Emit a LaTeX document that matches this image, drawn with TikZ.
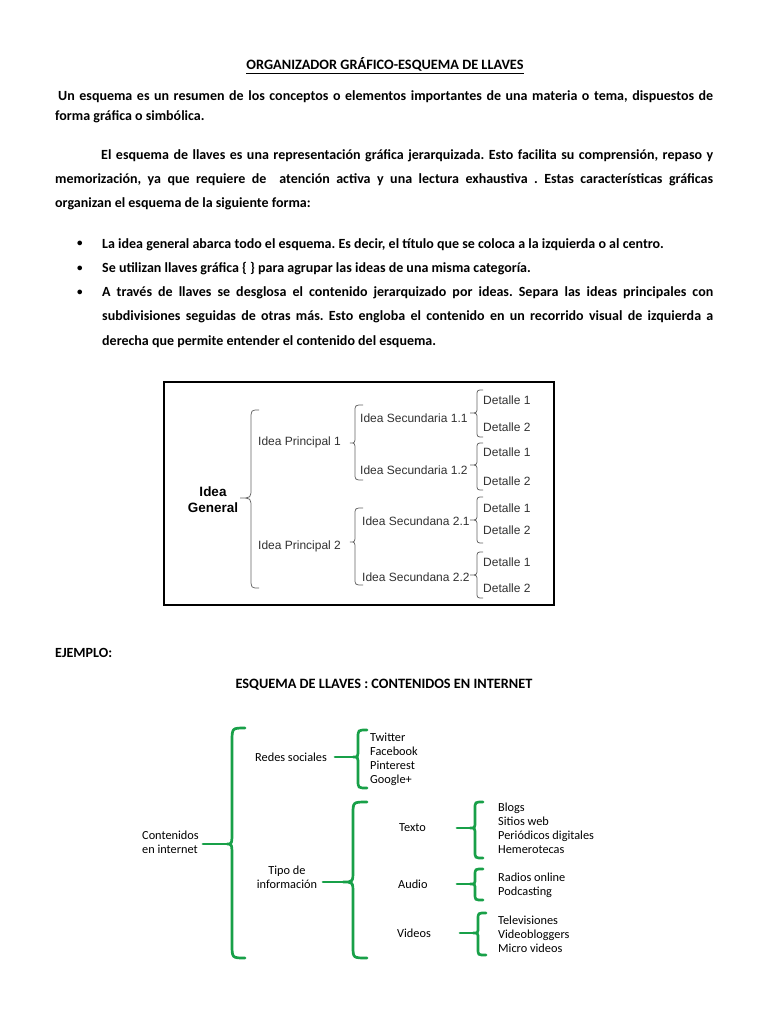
\documentclass[tikz,border=0pt]{standalone}
\usepackage{fontspec}
\setmainfont{Carlito}
\newfontfamily\arialf{Liberation Sans}
\definecolor{llgreen}{RGB}{24,160,72}
\definecolor{grtext}{RGB}{50,50,50}
\definecolor{grline}{RGB}{100,100,100}
\frenchspacing
% #1 tip x, #2 tip y, #3 vertical x, #4 top y, #5 bottom y, #6 curl end x, #7 radius, #8 style
\newcommand{\llave}[8]{%
  \draw[#8] (#6,#4) .. controls (#3,#4) .. (#3,#4+#7) -- (#3,#2-#7)
    .. controls (#3,#2) .. (#1,#2) .. controls (#3,#2) .. (#3,#2+#7)
    -- (#3,#5-#7) .. controls (#3,#5) .. (#6,#5);}
\begin{document}
\begin{tikzpicture}[x=1pt,y=-1pt,
  body/.style={anchor=base west,inner sep=0pt,font=\fontsize{14}{17}\selectfont\bfseries},
  bul/.style={anchor=base west,inner sep=0pt,font=\fontsize{11}{13}\selectfont\bfseries},
  head/.style={anchor=base,inner sep=0pt,font=\fontsize{14.3}{17}\selectfont\bfseries},
  ar/.style={anchor=base west,inner sep=0pt,text=grtext,font=\arialf\fontsize{12}{14}\selectfont},
  arb/.style={inner sep=0pt,align=center,text=black,font=\arialf\bfseries\fontsize{13.5}{16}\selectfont},
  gl/.style={inner sep=0pt,align=left,anchor=west,font=\fontsize{12.3}{14}\selectfont},
  gbr/.style={draw=llgreen,line width=2.7pt,line cap=round},
  thinbr/.style={draw=grline,line width=0.75pt}]
\useasboundingbox[fill=white] (0,0) rectangle (768,1024);

% ---------- heading and text ----------
\node[head] (title) at (385,70) {\underline{ORGANIZADOR GRÁFICO-ESQUEMA DE LLAVES}};
\node[body] (p1a) at (58,101) {\makebox[655pt][s]{Un esquema es un resumen de los conceptos o elementos importantes de una materia o tema, dispuestos de}};
\node[body] (p1b) at (55,121) {forma gráfica o simbólica.};
\node[body] (p2a) at (101,160) {\makebox[612pt][s]{El esquema de llaves es una representación gráfica jerarquizada. Esto facilita su comprensión, repaso y}};
\node[body] (p2b) at (55,184) {\makebox[658pt][s]{memorización, ya que requiere de \ atención activa y una lectura exhaustiva . Estas características gráficas}};
\node[body] (p2c) at (55,208) {organizan el esquema de la siguiente forma:};

\node[bul] (b1) at (77,247) {•};
\node[body] (t1) at (102,248) {La idea general abarca todo el esquema. Es decir, el título que se coloca a la izquierda o al centro.};
\node[bul] (b2) at (77,271) {•};
\node[body] (t2) at (102,272) {Se utilizan llaves gráfica \{ \} para agrupar las ideas de una misma categoría.};
\node[bul] (b3) at (77,295) {•};
\node[body] (t3a) at (102,296) {\makebox[611pt][s]{A través de llaves se desglosa el contenido jerarquizado por ideas. Separa las ideas principales con}};
\node[body] (t3b) at (102,320) {\makebox[611pt][s]{subdivisiones seguidas de otras más. Esto engloba el contenido en un recorrido visual de izquierda a}};
\node[body] (t3c) at (102,345) {derecha que permite entender el contenido del esquema.};

% ---------- generic scheme ----------
\draw[line width=2.4pt] (164,382) rectangle (554,605);
\node[arb] (ig) at (213,500) {Idea\\General};
\llave{240}{498}{251}{410}{588}{259}{10}{thinbr}
\node[ar] (ip1) at (258,445) {Idea Principal 1};
\node[ar] (ip2) at (258,549) {Idea Principal 2};
\llave{350}{443}{355}{405}{480}{363}{7}{thinbr}
\llave{350}{542}{355}{508}{585}{363}{7}{thinbr}
\node[ar] (is11) at (360,422) {Idea Secundaria 1.1};
\node[ar] (is12) at (360,474) {Idea Secundaria 1.2};
\node[ar] (is21) at (362,525) {Idea Secundana 2.1};
\node[ar] (is22) at (362,581) {Idea Secundana 2.2};
\llave{470}{413}{477}{390}{437}{483}{6}{thinbr}
\llave{470}{465}{477}{443}{490}{483}{6}{thinbr}
\llave{470}{520}{477}{497}{543}{483}{6}{thinbr}
\llave{470}{575}{477}{552}{598}{483}{6}{thinbr}
\node[ar] (d1) at (483,404.5) {Detalle 1};
\node[ar] (d2) at (483,431.5) {Detalle 2};
\node[ar] (d3) at (483,456.5) {Detalle 1};
\node[ar] (d4) at (483,485.5) {Detalle 2};
\node[ar] (d5) at (483,512.5) {Detalle 1};
\node[ar] (d6) at (483,534.5) {Detalle 2};
\node[ar] (d7) at (483,566.5) {Detalle 1};
\node[ar] (d8) at (483,592.5) {Detalle 2};

% ---------- example ----------
\node[body] (ej) at (55,657) {EJEMPLO:};
\node[head] (sub) at (384,688) {ESQUEMA DE LLAVES : CONTENIDOS EN INTERNET};

\node[gl] (cont) at (142,842) {Contenidos\\en internet};
\coordinate (c0) at (203,844); \coordinate (c1) at (227,844);
\draw[gbr] (c0) -- (c1);
\llave{227}{844}{232}{728}{958}{245}{14}{gbr}

\node[gl] (redes) at (255,757) {Redes sociales};
\coordinate (r0) at (335,757); \coordinate (r1) at (353,757);
\draw[gbr] (r0) -- (r1);
\llave{353}{757}{358}{730}{788}{367}{8}{gbr}
\node[gl] (lr) at (370,759) {Twitter\\Facebook\\Pinterest\\Google+};

\node[inner sep=0pt,align=center,font=\fontsize{12.3}{14}\selectfont] (tipo) at (287,877) {Tipo de\\información};
\coordinate (ti0) at (323,882); \coordinate (ti1) at (343,882);
\draw[gbr] (ti0) -- (ti1);
\llave{343}{882}{353}{802}{958}{367}{12}{gbr}

\node[gl] (texto) at (399,828) {Texto};
\node[gl] (audio) at (398,884) {Audio};
\node[gl] (videos) at (397,933) {Videos};

\coordinate (x0) at (457,828); \coordinate (x1) at (470,828);
\draw[gbr] (x0) -- (x1);
\llave{470}{828}{475}{802}{858}{483}{7}{gbr}
\node[gl] (lt) at (498,828) {Blogs\\Sitios web\\Periódicos digitales\\Hemerotecas};

\coordinate (a0) at (457,884); \coordinate (a1) at (470,884);
\draw[gbr] (a0) -- (a1);
\llave{470}{884}{475}{869}{900}{483}{6}{gbr}
\node[gl] (la) at (498,885) {Radios online\\Podcasting};

\coordinate (v0) at (460,933); \coordinate (v1) at (473,933);
\draw[gbr] (v0) -- (v1);
\llave{473}{933}{478}{913}{955}{486}{6}{gbr}
\node[gl] (lv) at (498,934) {Televisiones\\Videobloggers\\Micro videos};
\end{tikzpicture}
\end{document}
